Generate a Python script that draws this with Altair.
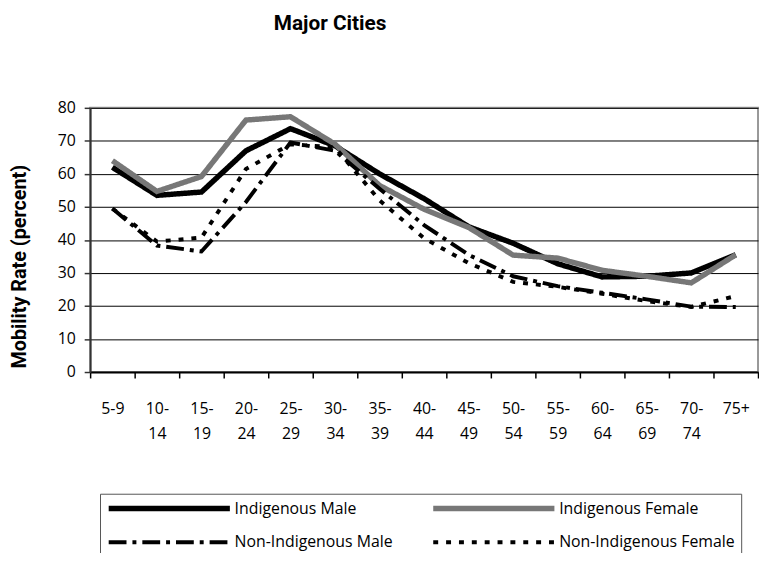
import altair as alt
import pandas as pd

ages = ["5-9", "10-14", "15-19", "20-24", "25-29", "30-34", "35-39", "40-44",
        "45-49", "50-54", "55-59", "60-64", "65-69", "70-74", "75+"]
series = ["Indigenous Male", "Indigenous Female", "Non-Indigenous Male", "Non-Indigenous Female"]

ind_male = [62, 53.5, 54.5, 67, 73.7, 68.5, 60, 52.5, 44, 39, 32.8, 28.8, 29, 30, 35.5]
ind_female = [64, 54.7, 59.2, 76.3, 77.3, 69, 56.5, 49.3, 43.8, 35.4, 34.5, 30.8, 29, 27, 35.5]
nonind_male = [49.5, 38.3, 36.5, 51.5, 69.5, 67, 55.5, 44.5, 35.5, 29, 26, 24, 22, 19.8, 19.7]
nonind_female = [49.5, 39.5, 40.7, 61.5, 69, 68, 52, 40.5, 33, 27.3, 25.8, 23.7, 21.5, 19.7, 23]

y_ticks = [0, 10, 20, 30, 40, 50, 60, 70, 80]

style = {
    "Indigenous Male": ("#000000", [1, 0], 5.5),
    "Indigenous Female": ("#777777", [1, 0], 5.5),
    "Non-Indigenous Male": ("#000000", [18, 6, 4, 6], 4),
    "Non-Indigenous Female": ("#000000", [5, 8], 4),
}
# legend fills column by column, so list column 1 first, then column 2
legend_order = ["Indigenous Male", "Non-Indigenous Male", "Indigenous Female", "Non-Indigenous Female"]
colors = [style[s][0] for s in legend_order]
dashes = [style[s][1] for s in legend_order]
widths = [style[s][2] for s in legend_order]

rows = []
for s, vals in zip(series, [ind_male, ind_female, nonind_male, nonind_female]):
    for a, v in zip(ages, vals):
        rows.append({"age": a, "series": s, "rate": v})
df = pd.DataFrame(rows)

label_font = "Open Sans"
bold_font = "Roboto"
legend_cfg = dict(
    title=None, orient="none", legendX=10, legendY=390, columns=2,
    symbolType="stroke", symbolSize=15000, clipHeight=18,
    labelFont=label_font, labelFontSize=16, labelLimit=300,
    labelColor="#000", columnPadding=38, rowPadding=16, padding=6,
    strokeColor="#555", fillColor="#ffffff", labelOffset=2,
)

label_expr = ("!isValid(datum.value) ? '' : "
              "(datum.value == '5-9' || datum.value == '75+') ? datum.value : "
              "[split(datum.value, '-')[0] + '-', split(datum.value, '-')[1]]")

chart = alt.Chart(df).mark_line(strokeCap="butt").encode(
    x=alt.X("age:N", sort=ages,
            scale=alt.Scale(type="band", domain=ages, paddingInner=0, paddingOuter=0),
            axis=alt.Axis(title=None, grid=False, tickBand="extent", labelAngle=0,
                          labelExpr=label_expr,
                          labelFont=label_font, labelFontSize=16, labelColor="#000",
                          labelLineHeight=25, labelPadding=23, tickSize=6,
                          tickColor="#000", domainColor="#000", domainWidth=2, tickWidth=1.5,
                          labelBaseline="top")),
    y=alt.Y("rate:Q", scale=alt.Scale(domain=[0, 80], nice=False),
            axis=alt.Axis(values=y_ticks, title="Mobility Rate (percent)",
                          titleFont=bold_font, titleFontSize=20, titleFontWeight="bold",
                          titleColor="#000", titleAngle=270, titleX=-71, titleY=160,
                          titleAlign="center", titleBaseline="middle",
                          labelFont=label_font, labelFontSize=16, labelColor="#000",
                          labelPadding=9, tickSize=6, tickColor="#333", domainColor="#333",
                          domainWidth=2, tickWidth=1.5,
                          grid=True, gridColor="#000", gridWidth=1)),
    color=alt.Color("series:N", sort=legend_order,
                    scale=alt.Scale(domain=legend_order, range=colors),
                    legend=alt.Legend(**legend_cfg)),
    strokeDash=alt.StrokeDash("series:N", sort=legend_order,
                              scale=alt.Scale(domain=legend_order, range=dashes),
                              legend=alt.Legend(**legend_cfg)),
    strokeWidth=alt.StrokeWidth("series:N", sort=legend_order,
                                scale=alt.Scale(type="ordinal", domain=legend_order, range=widths),
                                legend=alt.Legend(**legend_cfg)),
).properties(
    width=675, height=267,
    title=alt.Title("Major Cities", font=bold_font, fontSize=21,
                    fontWeight="bold", color="#000", anchor="middle", dx=-95,
                    offset=67, frame="group"),
    autosize=alt.AutoSizeParams(type="none"),
    padding={"left": 83, "top": 98, "right": 1, "bottom": 180},
).configure_view(stroke="#999999", strokeWidth=2)

chart.save("out.html", embed_options={"renderer": "svg", "actions": False})
